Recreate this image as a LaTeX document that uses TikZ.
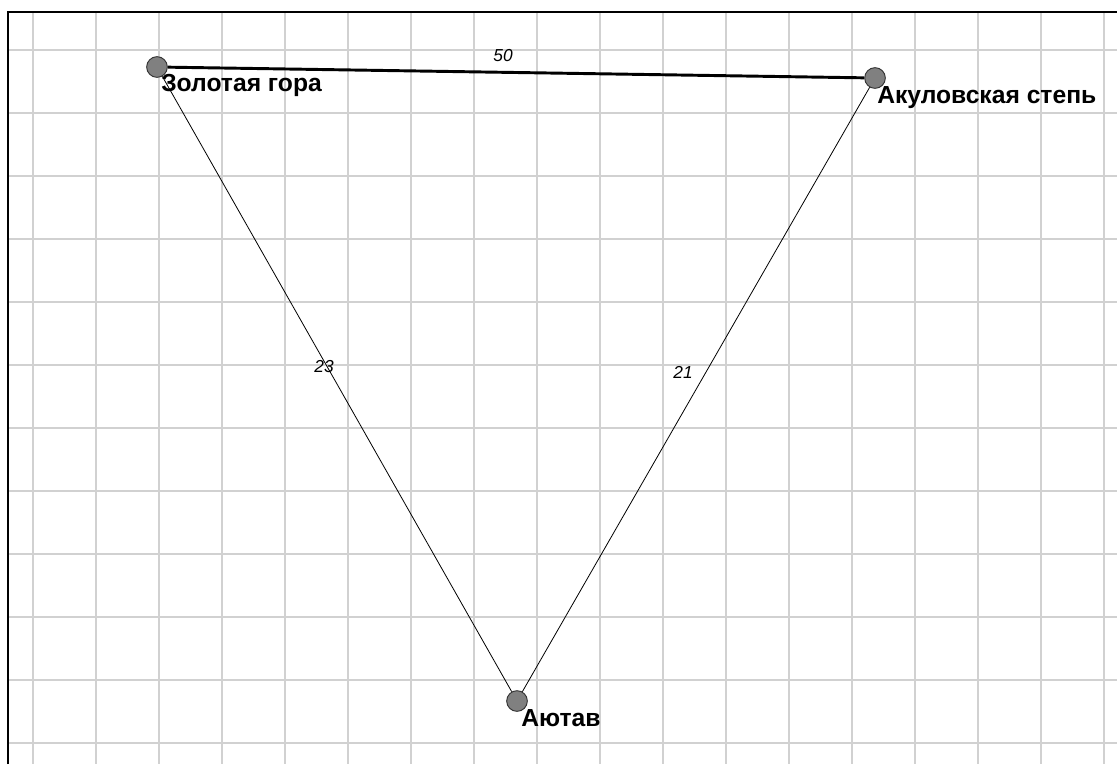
\documentclass[tikz,border=0pt]{standalone}
\usepackage{fontspec}
\setmainfont{Liberation Sans}
\usepackage{tikz}
\usetikzlibrary{positioning}

\begin{document}
\begin{tikzpicture}[x=0.75pt,y=-0.75pt,
  town/.style={circle,draw=black!80,fill=black!50,line width=0.7pt,minimum size=15.5pt,inner sep=0pt},
  townlbl/.style={anchor=base west,inner sep=0pt,font=\fontsize{18.5pt}{20pt}\selectfont\bfseries},
  dist/.style={inner sep=0pt,font=\fontsize{13pt}{15pt}\selectfont\itshape}]
\useasboundingbox (0,0) rectangle (1117,764);
\fill[white] (0,0) rectangle (1117,764);
% grid
\foreach \xx in {0,...,17}
  {\draw[black!18,line width=1.2pt] (33+63*\xx,12) -- (33+63*\xx,764);}
\foreach \yy in {0,...,11}
  {\draw[black!18,line width=1.2pt] (8,50+63*\yy) -- (1117,50+63*\yy);}
% frame
\draw[line width=1.6pt] (8,764) -- (8,12) -- (1117,12);
% towns
\node[town] (zg) at (157,67) {};
\node[town] (ak) at (875,78) {};
\node[town] (au) at (517,701) {};
% roads
\draw[line width=2.2pt] (zg) -- (ak)
  node[pos=0.5,dist,xshift=-9.75pt,yshift=13.1pt] (d1) {50};
\draw[line width=0.6pt] (zg) -- (au)
  node[pos=0.5,dist,xshift=-9.75pt,yshift=13.1pt] (d2) {23};
\draw[line width=0.6pt] (ak) -- (au)
  node[pos=0.5,dist,xshift=-9.75pt,yshift=13.1pt] (d3) {21};
% names
\node[townlbl] (zg-l) at ([shift={(4,24)}]zg.center) {Золотая гора};
\node[townlbl] (ak-l) at ([shift={(2,25)}]ak.center) {Акуловская степь};
\node[townlbl] (au-l) at ([shift={(4,25)}]au.center) {Аютав};
\end{tikzpicture}
\end{document}
